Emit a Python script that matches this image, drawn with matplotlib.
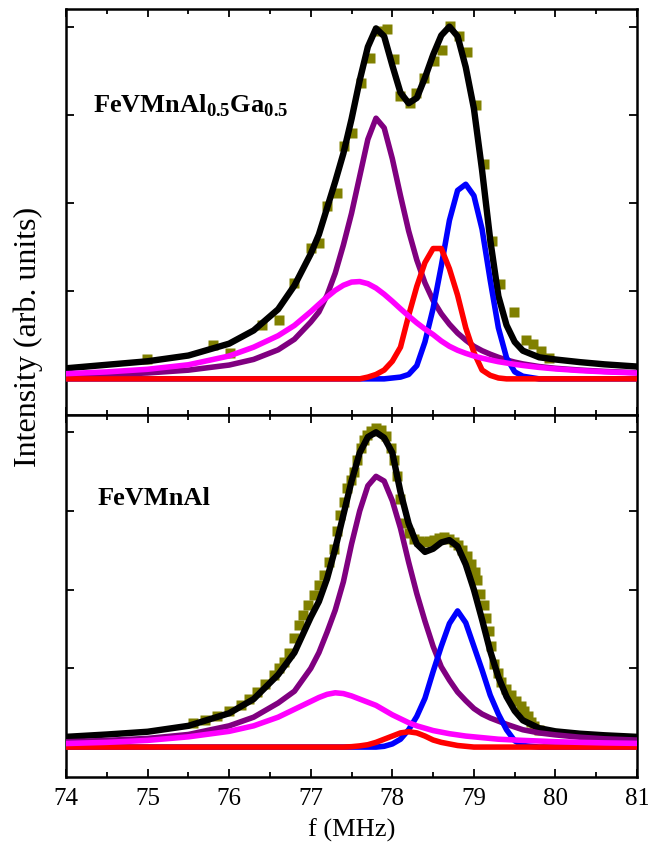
import matplotlib
matplotlib.use("Agg")
import matplotlib.pyplot as plt
from matplotlib.ticker import MultipleLocator

plt.rcParams['font.family'] = ['Liberation Serif', 'DejaVu Serif']
plt.rcParams['mathtext.fontset'] = 'custom'
plt.rcParams['mathtext.rm'] = 'Liberation Serif'
plt.rcParams['mathtext.bf'] = 'Liberation Serif:bold'

# frequency grid (MHz) the fitted curves are read at
freq = [74.0, 74.5, 75.0, 75.5, 76.0, 76.3, 76.6, 76.8,
        77.0, 77.1, 77.2, 77.3, 77.4, 77.5, 77.6, 77.7, 77.8, 77.9,
        78.0, 78.1, 78.2, 78.3, 78.4, 78.5, 78.6, 78.7, 78.8, 78.9,
        79.0, 79.1, 79.2, 79.3, 79.4, 79.5, 79.6,
        79.8, 80.0, 80.3, 80.6, 81.0]

# ---- FeVMnAl0.5Ga0.5 (top) ----
top_exp_f = [74.99, 75.80, 76.01, 76.40, 76.61, 76.79, 77.00, 77.10, 77.20, 77.32,
             77.41, 77.51, 77.62, 77.73, 77.82, 77.93, 78.02, 78.10, 78.22, 78.29,
             78.39, 78.51, 78.61, 78.71, 78.82, 78.92, 79.02, 79.12, 79.22, 79.32,
             79.49, 79.64, 79.72, 79.82, 79.92]
top_exp_y = [0.22, 0.39, 0.29, 0.61, 0.67, 1.09, 1.49, 1.54, 1.96, 2.11,
             2.64, 2.79, 3.36, 3.64, 3.95, 3.97, 3.63, 3.21, 3.13, 3.25,
             3.42, 3.61, 3.73, 4.01, 3.89, 3.71, 3.11, 2.44, 1.57, 1.08,
             0.76, 0.44, 0.40, 0.32, 0.24]
top_total = [0.12, 0.16, 0.20, 0.265, 0.40, 0.55, 0.79, 1.06,
             1.42, 1.64, 1.94, 2.24, 2.56, 2.95, 3.39, 3.77, 3.98, 3.89,
             3.56, 3.25, 3.13, 3.19, 3.42, 3.68, 3.90, 4.00, 3.89, 3.54,
             3.07, 2.37, 1.58, 0.94, 0.61, 0.42, 0.32,
             0.245, 0.22, 0.19, 0.165, 0.14]
top_purple = [0.037, 0.049, 0.067, 0.099, 0.157, 0.221, 0.33, 0.45,
              0.645, 0.76, 0.95, 1.20, 1.52, 1.88, 2.30, 2.72, 2.96, 2.85,
              2.50, 2.08, 1.68, 1.35, 1.09, 0.89, 0.74, 0.62, 0.52, 0.44,
              0.37, 0.32, 0.28, 0.245, 0.215, 0.19, 0.17,
              0.14, 0.12, 0.10, 0.085, 0.07]
top_magenta = [0.059, 0.079, 0.109, 0.16, 0.26, 0.36, 0.49, 0.607,
               0.763, 0.847, 0.93, 1.005, 1.063, 1.099, 1.105, 1.081, 1.031, 0.961,
               0.881, 0.796, 0.714, 0.636, 0.566, 0.503, 0.43, 0.37, 0.325, 0.29,
               0.26, 0.235, 0.215, 0.195, 0.18, 0.165, 0.152,
               0.13, 0.113, 0.094, 0.08, 0.066]
top_blue = [0, 0, 0, 0, 0, 0, 0, 0,
            0, 0, 0, 0, 0, 0, 0, 0, 0, 0,
            0.01, 0.02, 0.05, 0.15, 0.42, 0.80, 1.28, 1.80, 2.14, 2.21,
            2.08, 1.70, 1.12, 0.58, 0.24, 0.08, 0.03,
            0, 0, 0, 0, 0]
top_red = [0, 0, 0, 0, 0, 0, 0, 0,
           0, 0, 0, 0, 0, 0, 0, 0.02, 0.05, 0.10,
           0.20, 0.36, 0.72, 1.05, 1.32, 1.48, 1.48, 1.25, 0.95, 0.58,
           0.30, 0.10, 0.04, 0.01, 0, 0, 0,
           0, 0, 0, 0, 0]

# ---- FeVMnAl (bottom) ----
bot_exp_f = [75.56, 75.70, 75.85, 76.00, 76.14, 76.24, 76.34, 76.44, 76.55, 76.61,
             76.67, 76.73, 76.79, 76.85, 76.91, 76.97, 77.04, 77.10, 77.16, 77.22,
             77.28, 77.32, 77.36, 77.41, 77.45, 77.49, 77.53, 77.57, 77.61, 77.65,
             77.69, 77.74, 77.80, 77.86, 77.92, 77.98, 78.02, 78.06, 78.10, 78.14,
             78.20, 78.27, 78.33, 78.39, 78.45, 78.51, 78.57, 78.63, 78.69, 78.76,
             78.81, 78.86, 78.92, 78.97, 79.01, 79.04, 79.08, 79.12, 79.15, 79.18,
             79.21, 79.25, 79.29, 79.33, 79.39, 79.45, 79.52, 79.58, 79.62, 79.66,
             79.70, 79.74, 79.80]
bot_exp_y = [0.30, 0.34, 0.40, 0.46, 0.53, 0.61, 0.70, 0.80, 0.92, 1.00,
             1.08, 1.20, 1.38, 1.55, 1.68, 1.80, 1.93, 2.06, 2.19, 2.35,
             2.52, 2.75, 2.95, 3.12, 3.29, 3.40, 3.50, 3.65, 3.80, 3.90,
             3.96, 4.02, 4.05, 4.03, 3.95, 3.80, 3.65, 3.45, 3.15, 2.85,
             2.72, 2.65, 2.62, 2.61, 2.62, 2.63, 2.66, 2.67, 2.65, 2.61,
             2.57, 2.50, 2.43, 2.33, 2.22, 2.12, 1.95, 1.80, 1.64, 1.48,
             1.28, 1.06, 0.94, 0.83, 0.74, 0.66, 0.59, 0.52, 0.46, 0.40,
             0.32, 0.27, 0.22]
bot_total = [0.13, 0.16, 0.195, 0.27, 0.43, 0.61, 0.92, 1.20,
             1.65, 1.85, 2.14, 2.52, 2.95, 3.38, 3.74, 3.94, 4.00, 3.93,
             3.74, 3.24, 2.84, 2.58, 2.48, 2.52, 2.60, 2.63, 2.55, 2.32,
             2.00, 1.62, 1.22, 0.89, 0.64, 0.46, 0.34,
             0.24, 0.20, 0.17, 0.15, 0.13]
bot_purple = [0.067, 0.085, 0.11, 0.16, 0.27, 0.38, 0.56, 0.71,
              1.00, 1.20, 1.46, 1.74, 2.10, 2.58, 3.00, 3.32, 3.44, 3.38,
              3.13, 2.78, 2.35, 1.95, 1.60, 1.28, 1.02, 0.85, 0.70, 0.59,
              0.49, 0.42, 0.37, 0.33, 0.29, 0.255, 0.22,
              0.18, 0.155, 0.125, 0.105, 0.089]
bot_magenta = [0.045, 0.06, 0.085, 0.13, 0.20, 0.27, 0.38, 0.48,
               0.58, 0.63, 0.67, 0.69, 0.68, 0.65, 0.61, 0.57, 0.53, 0.47,
               0.41, 0.36, 0.31, 0.27, 0.24, 0.21, 0.19, 0.17, 0.155, 0.14,
               0.13, 0.12, 0.11, 0.10, 0.095, 0.09, 0.085,
               0.077, 0.068, 0.06, 0.053, 0.047]
bot_blue = [0, 0, 0, 0, 0, 0, 0, 0,
            0, 0, 0, 0, 0, 0, 0, 0, 0, 0.01,
            0.04, 0.10, 0.22, 0.39, 0.62, 0.96, 1.28, 1.57, 1.73, 1.58,
            1.28, 0.98, 0.66, 0.42, 0.22, 0.08, 0.02,
            0, 0, 0, 0, 0]
bot_red = [0, 0, 0, 0, 0, 0, 0, 0,
           0, 0, 0, 0, 0, 0.005, 0.015, 0.03, 0.06, 0.10,
           0.14, 0.18, 0.195, 0.18, 0.14, 0.09, 0.06, 0.04, 0.02, 0.01,
           0, 0, 0, 0, 0, 0, 0,
           0, 0, 0, 0, 0]

labels = [r'FeVMnAl$_\mathbf{0.5}$Ga$_\mathbf{0.5}$', 'FeVMnAl']


def draw_panel(ax, exp_f, exp_y, total, purple, magenta, blue, red, label, ylim):
    ax.plot(exp_f, exp_y, 's', color='#808000', ms=6.5, mec='none', zorder=1)
    ax.plot(freq, total, color='black', lw=4.6, zorder=2)
    ax.plot(freq, purple, color='#800080', lw=4.0, zorder=3)
    ax.plot(freq, blue, color='#0000ff', lw=4.0, zorder=4)
    ax.plot(freq, red, color='#ff0000', lw=4.0, zorder=5)
    ax.plot(freq, magenta, color='#ff00ff', lw=4.0, zorder=6)
    ax.set_xlim(74, 81)
    ax.set_ylim(*ylim)
    ax.xaxis.set_major_locator(MultipleLocator(1))
    ax.xaxis.set_minor_locator(MultipleLocator(0.5))
    ax.yaxis.set_major_locator(MultipleLocator(1))
    ax.tick_params(which='both', direction='in', top=True, right=True,
                   labelleft=False, width=1.3)
    ax.tick_params(which='major', length=6)
    ax.tick_params(which='minor', length=3.5)
    for s in ax.spines.values():
        s.set_linewidth(1.8)
    ax.text(label[1], label[2], label[0], transform=ax.transAxes,
            fontsize=19, fontweight='bold', va='baseline', ha='left')


fig = plt.figure(figsize=(6.48, 8.5), dpi=100)
ax1 = fig.add_axes([0.1019, 0.5118, 0.8812, 0.4776])
ax2 = fig.add_axes([0.1019, 0.0859, 0.8812, 0.4259])

draw_panel(ax1, top_exp_f, top_exp_y, top_total, top_purple, top_magenta,
           top_blue, top_red, (labels[0], 0.047, 0.746), (-0.41, 4.2))
draw_panel(ax2, bot_exp_f, bot_exp_y, bot_total, bot_purple, bot_magenta,
           bot_blue, bot_red, (labels[1], 0.056, 0.751), (-0.38, 4.22))

ax1.tick_params(labelbottom=False)
ax2.tick_params(axis='x', labelsize=18, pad=8)
ax2.set_xlabel('f (MHz)', fontsize=19, labelpad=6)

fig.text(0.043, 0.604, 'Intensity (arb. units)', rotation=90, fontsize=23,
         ha='center', va='center')

fig.savefig('out.png', dpi=100)
